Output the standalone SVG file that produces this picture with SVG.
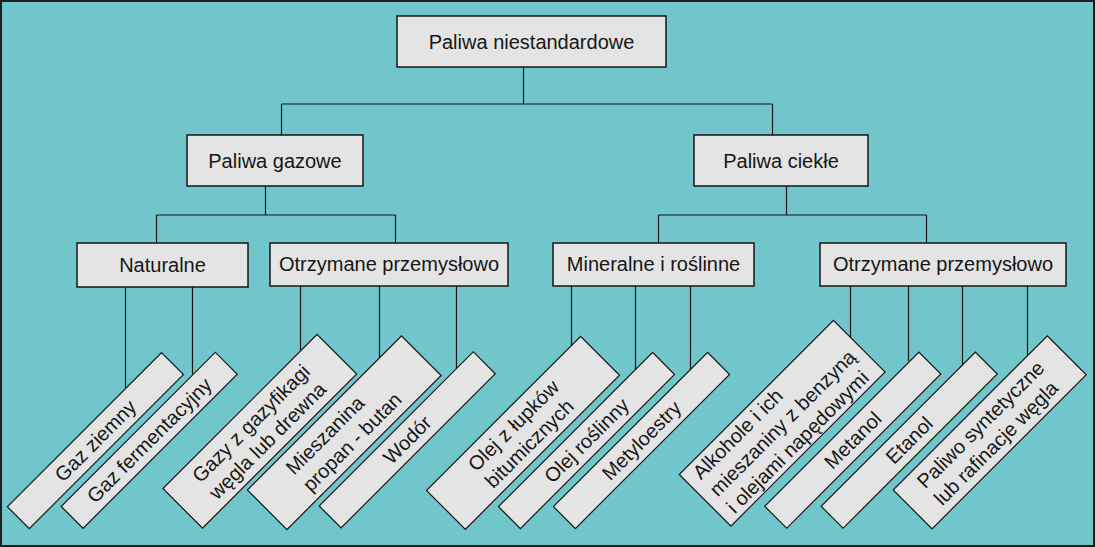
<svg xmlns="http://www.w3.org/2000/svg" width="1095" height="547" viewBox="0 0 1095 547">
<style>
.bg{fill:#70c6cb;stroke:#1e1e1e;stroke-width:2}
.box{fill:#e4e4e4;stroke:#161616;stroke-width:1.5}
.rbox{fill:#e4e4e4;stroke:#161616;stroke-width:1.2}
.t{font-family:"Liberation Sans",Arial,sans-serif;font-size:20px;fill:#161616}
.c{text-anchor:middle}
.conn{fill:none;stroke:#161616;stroke-width:1.2}
</style>
<rect class="bg" x="1" y="1" width="1093" height="545"/>
<g id="connectors" class="conn">
<path d="M523.5,67V104M281.5,104H772.5M281.5,104V135M772.5,104V135"/>
<path d="M265.5,186V215M156.5,215H395.5M156.5,215V243M395.5,215V243"/>
<path d="M786.5,186V215M658.5,215H926.5M658.5,215V243M926.5,215V243"/>
<path d="M125.5,287V388M192.5,287V374"/>
<path d="M300.5,286V350M379.5,286V358M456.5,286V369"/>
<path d="M571.5,286V346M635.5,286V369M690.5,286V370"/>
<path d="M850.5,286V340M908.5,286V361M962.5,286V365M1027.5,286V357"/>
</g>
<g id="n-root"><rect class="box" x="397" y="16" width="269" height="51"/><text class="t c" x="531.5" y="48.5">Paliwa niestandardowe</text></g>
<g id="n-gazowe"><rect class="box" x="187" y="135" width="176" height="51"/><text class="t c" x="275" y="168">Paliwa gazowe</text></g>
<g id="n-ciekle"><rect class="box" x="694" y="135" width="174" height="51"/><text class="t c" x="781" y="168">Paliwa ciekłe</text></g>
<g id="n-naturalne"><rect class="box" x="77" y="243" width="171" height="44"/><text class="t c" x="162.5" y="272">Naturalne</text></g>
<g id="n-otrz1"><rect class="box" x="270" y="243" width="238" height="43"/><text class="t c" x="389" y="271">Otrzymane przemysłowo</text></g>
<g id="n-mineralne"><rect class="box" x="553" y="243" width="201" height="43"/><text class="t c" x="653.5" y="271">Mineralne i roślinne</text></g>
<g id="n-otrz2"><rect class="box" x="820" y="243" width="246" height="43"/><text class="t c" x="943" y="271">Otrzymane przemysłowo</text></g>

<g id="n-gaz-ziemny" transform="translate(95.4,440.6) rotate(-45)"><rect class="rbox" x="-109" y="-15.5" width="218" height="31"/><text class="t c" x="0" y="7">Gaz ziemny</text></g>
<g id="n-gaz-ferm" transform="translate(149.2,440.3) rotate(-45)"><rect class="rbox" x="-109" y="-15.5" width="218" height="31"/><text class="t c" x="0" y="7">Gaz fermentacyjny</text></g>
<g id="n-gazy-gazyf" transform="translate(259.8,431.3) rotate(-45)"><rect class="rbox" x="-109" y="-28" width="218" height="56"/><text class="t" x="-79" y="-5">Gazy z gazyfikagi</text><text class="t" x="-79" y="19">węgla lub drewna</text></g>
<g id="n-mieszanina" transform="translate(344.2,432.7) rotate(-45)"><rect class="rbox" x="-109" y="-28" width="218" height="56"/><text class="t" x="-66" y="-5">Mieszanina</text><text class="t" x="-66" y="19">propan - butan</text></g>
<g id="n-wodor" transform="translate(407.2,439.8) rotate(-45)"><rect class="rbox" x="-109" y="-15.5" width="218" height="31"/><text class="t c" x="0" y="7">Wodór</text></g>
<g id="n-olej-lupkow" transform="translate(523,432.8) rotate(-45)"><rect class="rbox" x="-109" y="-27.5" width="218" height="55"/><text class="t" x="-61" y="-5">Olej z łupków</text><text class="t" x="-61" y="19">bitumicznych</text></g>
<g id="n-olej-roslinny" transform="translate(586.5,440.5) rotate(-45)"><rect class="rbox" x="-109" y="-15.5" width="218" height="31"/><text class="t c" x="0" y="7">Olej roślinny</text></g>
<g id="n-metyloestry" transform="translate(641.5,440.5) rotate(-45)"><rect class="rbox" x="-109" y="-15.5" width="218" height="31"/><text class="t c" x="0" y="7">Metyloestry</text></g>
<g id="n-alkohole" transform="translate(782.2,423.2) rotate(-45)"><rect class="rbox" x="-109" y="-36.5" width="218" height="73"/><text class="t" x="-98" y="-17">Alkohole i ich</text><text class="t" x="-98" y="7">mieszaniny z benzyną</text><text class="t" x="-98" y="31">i olejami napędowymi</text></g>
<g id="n-metanol" transform="translate(852.8,440.2) rotate(-45)"><rect class="rbox" x="-109" y="-15.5" width="218" height="31"/><text class="t c" x="0" y="7">Metanol</text></g>
<g id="n-etanol" transform="translate(909.2,440.2) rotate(-45)"><rect class="rbox" x="-109" y="-15.5" width="218" height="31"/><text class="t c" x="0" y="7">Etanol</text></g>
<g id="n-paliwo-synt" transform="translate(989.7,432.3) rotate(-45)"><rect class="rbox" x="-109" y="-27.5" width="218" height="55"/><text class="t" x="-86" y="-5">Paliwo syntetyczne</text><text class="t" x="-86" y="19">lub rafinacje węgla</text></g>
</svg>
